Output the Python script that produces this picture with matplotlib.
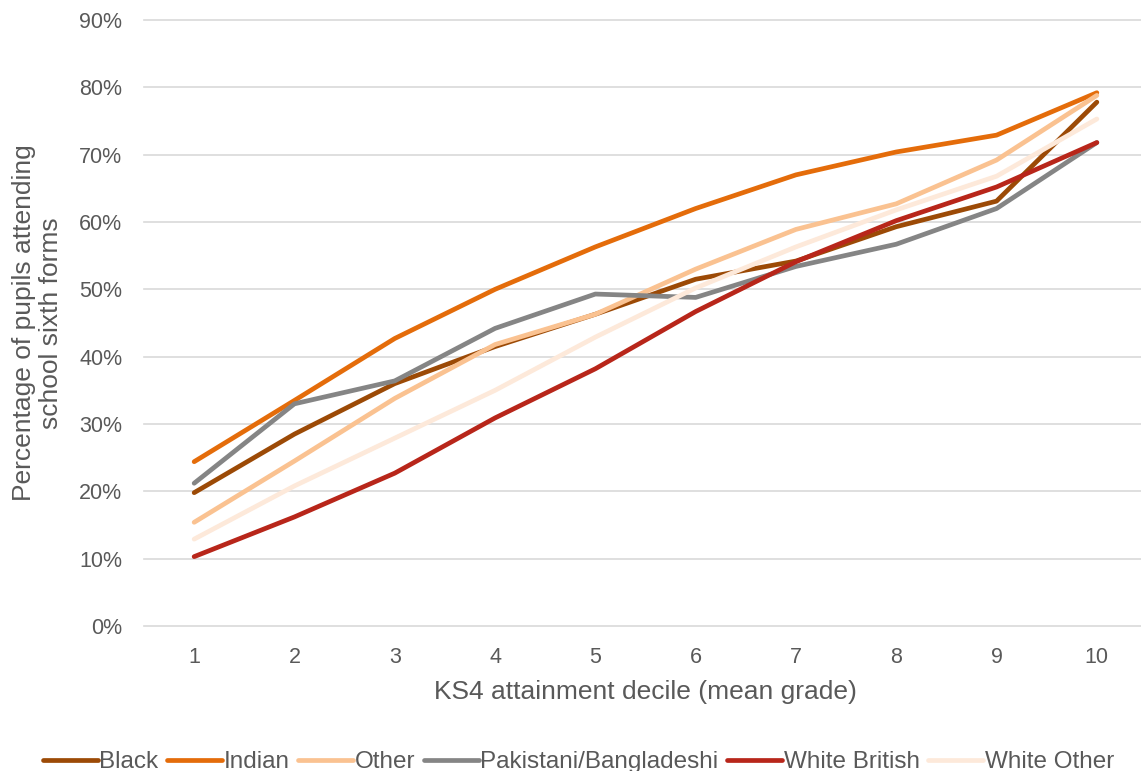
import matplotlib
matplotlib.use("Agg")
import matplotlib.pyplot as plt
from matplotlib.ticker import FuncFormatter

plt.rcParams["font.family"] = ["Liberation Sans", "DejaVu Sans"]

DECILES = [1, 2, 3, 4, 5, 6, 7, 8, 9, 10]
BLACK = [19.8, 28.5, 36.0, 41.5, 46.3, 51.5, 54.2, 59.3, 63.1, 77.8]
INDIAN = [24.4, 33.5, 42.7, 50.0, 56.3, 62.0, 67.0, 70.4, 72.9, 79.2]
OTHER = [15.4, 24.5, 33.8, 41.8, 46.3, 53.0, 58.9, 62.7, 69.2, 78.8]
PAK_BANG = [21.2, 33.0, 36.4, 44.2, 49.3, 48.8, 53.4, 56.7, 62.0, 71.8]
WHITE_BRITISH = [10.3, 16.2, 22.7, 30.9, 38.2, 46.7, 54.1, 60.2, 65.2, 71.8]
WHITE_OTHER = [12.9, 20.8, 27.9, 35.0, 42.9, 50.2, 56.3, 61.8, 66.8, 75.3]

SERIES = [
    ("Black", BLACK, "#9c4a06"),
    ("Indian", INDIAN, "#e46c0a"),
    ("Other", OTHER, "#fac291"),
    ("Pakistani/Bangladeshi", PAK_BANG, "#858585"),
    ("White British", WHITE_BRITISH, "#b8261a"),
    ("White Other", WHITE_OTHER, "#fde9da"),
]

TEXT = "#595959"

fig = plt.figure(figsize=(11.41, 7.71), dpi=100)
ax = fig.add_axes([144 / 1141, 145 / 771, 1003 / 1141, 606 / 771])

for name, values, color in SERIES:
    ax.plot(DECILES, values, color=color, linewidth=3.4, label=name,
            solid_capstyle="round", solid_joinstyle="round")

ax.set_xlim(0.5, 10.5)
ax.set_ylim(0, 90)
ax.set_yticks(range(0, 91, 10))
ax.set_xticks(DECILES)
ax.yaxis.set_major_formatter(FuncFormatter(lambda v, _: f"{v:.0f}%"))
ax.grid(axis="y", color="#d9d9d9", linewidth=1.2)
for line in ax.get_ygridlines():
    line.set_clip_on(False)
ax.set_axisbelow(True)
for spine in ax.spines.values():
    spine.set_visible(False)
ax.tick_params(length=0, labelsize=15.5, colors=TEXT)
ax.tick_params(axis="y", pad=15.5)
ax.tick_params(axis="x", pad=15)

ax.set_xlabel("KS4 attainment decile (mean grade)", fontsize=19, color=TEXT, labelpad=9)
ax.set_ylabel("Percentage of pupils attending\nschool sixth forms", fontsize=19,
              color=TEXT, labelpad=12, linespacing=1.15)

fig.legend(loc="center", bbox_to_anchor=(0.507, 1 - 762 / 771), ncol=6, frameon=False,
           fontsize=17.5, labelcolor=TEXT, handlelength=2.25, handletextpad=0.08,
           columnspacing=0.35)

fig.savefig("out.png", dpi=100)
